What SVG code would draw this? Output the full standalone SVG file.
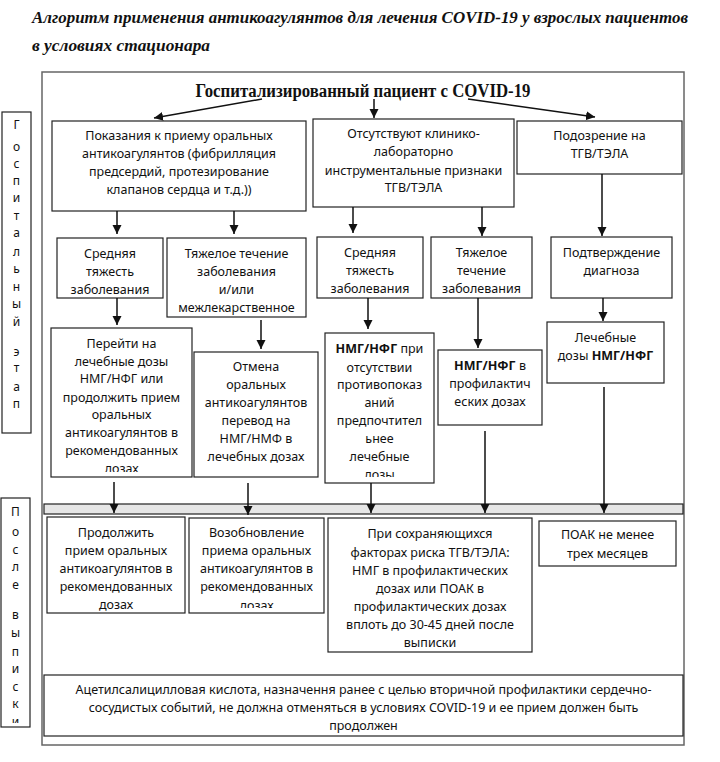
<svg xmlns="http://www.w3.org/2000/svg" width="720" height="762" viewBox="0 0 720 762">
<style>
.t{font-family:"Noto Sans","Open Sans","DejaVu Sans",sans-serif;font-size:12.5px;fill:#111;text-anchor:middle}
.b{font-weight:bold}
.box{fill:#fff;stroke:#222;stroke-width:1.2}
.lbl{font-family:"Noto Sans","Open Sans",sans-serif;font-size:12px;fill:#111;text-anchor:middle}
.ttl{font-family:"Liberation Serif","Times New Roman",serif;font-weight:bold;font-style:italic;font-size:17.5px;fill:#111}
.head{font-family:"Liberation Serif","Times New Roman",serif;font-weight:bold;font-size:18px;fill:#111;text-anchor:middle}
.con{stroke:#111;stroke-width:1.5;fill:none;marker-end:url(#ah)}
</style>
<defs>
<marker id="ah" markerUnits="userSpaceOnUse" markerWidth="10" markerHeight="10" refX="9" refY="4.5" orient="auto">
<path d="M0,0 L9,4.5 L0,9 z" fill="#111"/>
</marker>
<clipPath id="c1"><rect x="51" y="328" width="141" height="144"/></clipPath>
<clipPath id="c2"><rect x="189" y="518" width="135" height="90"/></clipPath>
<clipPath id="c3"><rect x="325" y="333" width="109" height="144"/></clipPath>
<clipPath id="c4"><rect x="1" y="498" width="29" height="225"/></clipPath>
</defs>
<rect width="720" height="762" fill="#fff"/>

<g id="title">
<text class="ttl" x="32" y="23" textLength="656" lengthAdjust="spacingAndGlyphs">Алгоритм применения антикоагулянтов для лечения COVID-19 у взрослых пациентов</text>
<text class="ttl" x="32" y="51" textLength="178" lengthAdjust="spacingAndGlyphs">в условиях стационара</text>
</g>

<g id="frame">
<rect x="42" y="72" width="642" height="673" fill="none" stroke="#666" stroke-width="1.5"/>
</g>

<g id="label-hospital">
<rect x="2" y="112" width="29" height="321" fill="#fff" stroke="#222" stroke-width="1.2"/>
<text class="lbl" x="16.5" y="129">Г</text>
<text class="lbl" x="16.5" y="151">о</text>
<text class="lbl" x="16.5" y="168">с</text>
<text class="lbl" x="16.5" y="185">п</text>
<text class="lbl" x="16.5" y="202">и</text>
<text class="lbl" x="16.5" y="220">т</text>
<text class="lbl" x="16.5" y="237">а</text>
<text class="lbl" x="16.5" y="256">л</text>
<text class="lbl" x="16.5" y="273">ь</text>
<text class="lbl" x="16.5" y="291">н</text>
<text class="lbl" x="16.5" y="308">ы</text>
<text class="lbl" x="16.5" y="326">й</text>
<text class="lbl" x="16.5" y="356">э</text>
<text class="lbl" x="16.5" y="372">т</text>
<text class="lbl" x="16.5" y="391">а</text>
<text class="lbl" x="16.5" y="408">п</text>
</g>

<g id="label-discharge">
<rect x="1" y="498" width="29" height="229" fill="#fff" stroke="#222" stroke-width="1.2"/>
<g clip-path="url(#c4)">
<text class="lbl" x="15.5" y="516">П</text>
<text class="lbl" x="15.5" y="536">о</text>
<text class="lbl" x="15.5" y="554">с</text>
<text class="lbl" x="15.5" y="571">л</text>
<text class="lbl" x="15.5" y="589">е</text>
<text class="lbl" x="15.5" y="619">в</text>
<text class="lbl" x="15.5" y="637">ы</text>
<text class="lbl" x="15.5" y="656">п</text>
<text class="lbl" x="15.5" y="673">и</text>
<text class="lbl" x="15.5" y="691">с</text>
<text class="lbl" x="15.5" y="708">к</text>
<text class="lbl" x="15.5" y="726">и</text>
</g>
</g>

<g id="head">
<text class="head" x="363" y="97" textLength="335" lengthAdjust="spacingAndGlyphs">Госпитализированный пациент с COVID-19</text>
</g>

<g id="n-oral">
<rect class="box" x="52" y="121" width="254" height="90"/>
<text class="t" x="179" y="139.5">Показания к приему оральных</text>
<text class="t" x="179" y="157.5">антикоагулянтов (фибрилляция</text>
<text class="t" x="179" y="176">предсердий, протезирование</text>
<text class="t" x="179" y="194">клапанов сердца и т.д.))</text>
</g>

<g id="n-nosigns">
<rect class="box" x="313" y="119" width="201" height="88"/>
<text class="t" x="413.5" y="137.5">Отсутствуют клинико-</text>
<text class="t" x="413.5" y="156">лабораторно</text>
<text class="t" x="413.5" y="174.5">инструментальные признаки</text>
<text class="t" x="413.5" y="191.5">ТГВ/ТЭЛА</text>
</g>

<g id="n-suspect">
<rect class="box" x="517" y="121" width="165" height="53"/>
<text class="t" x="599.5" y="139.5">Подозрение на</text>
<text class="t" x="599.5" y="157.5">ТГВ/ТЭЛА</text>
</g>

<g id="n-mod1">
<rect class="box" x="57" y="238" width="106" height="60"/>
<text class="t" x="110" y="257.5">Средняя</text>
<text class="t" x="110" y="275.5">тяжесть</text>
<text class="t" x="110" y="293.5">заболевания</text>
</g>

<g id="n-sev1">
<rect class="box" x="167" y="238" width="139" height="79"/>
<text class="t" x="236.5" y="257.5">Тяжелое течение</text>
<text class="t" x="236.5" y="275.5">заболевания</text>
<text class="t" x="236.5" y="293.5">и/или</text>
<text class="t" x="236.5" y="311.5">межлекарственное</text>
</g>

<g id="n-mod2">
<rect class="box" x="317" y="237" width="106" height="61"/>
<text class="t" x="370" y="256.5">Средняя</text>
<text class="t" x="370" y="274.5">тяжесть</text>
<text class="t" x="370" y="292.5">заболевания</text>
</g>

<g id="n-sev2">
<rect class="box" x="431" y="237" width="101" height="61"/>
<text class="t" x="481.5" y="256.5">Тяжелое</text>
<text class="t" x="481.5" y="274.5">течение</text>
<text class="t" x="481.5" y="292.5">заболевания</text>
</g>

<g id="n-confirm">
<rect class="box" x="551" y="237" width="121" height="61"/>
<text class="t" x="611.5" y="256.5">Подтверждение</text>
<text class="t" x="611.5" y="274.5">диагноза</text>
</g>

<g id="n-switch">
<rect class="box" x="51" y="328" width="141" height="149"/>
<g clip-path="url(#c1)">
<text class="t" x="121.5" y="347.5">Перейти на</text>
<text class="t" x="121.5" y="365.5">лечебные дозы</text>
<text class="t" x="121.5" y="382.5">НМГ/НФГ или</text>
<text class="t" x="121.5" y="401.5">продолжить прием</text>
<text class="t" x="121.5" y="418.5">оральных</text>
<text class="t" x="121.5" y="436.5">антикоагулянтов в</text>
<text class="t" x="121.5" y="454.5">рекомендованных</text>
<text class="t" x="121.5" y="472.5">дозах</text>
</g>
</g>

<g id="n-cancel">
<rect class="box" x="194" y="352" width="124" height="125"/>
<text class="t" x="256" y="370.5">Отмена</text>
<text class="t" x="256" y="388.5">оральных</text>
<text class="t" x="256" y="406.5">антикоагулянтов</text>
<text class="t" x="256" y="424.5">перевод на</text>
<text class="t" x="256" y="442.5">НМГ/НМФ в</text>
<text class="t" x="256" y="460.5">лечебных дозах</text>
</g>

<g id="n-lmwh-pref">
<rect class="box" x="325" y="333" width="109" height="150"/>
<g clip-path="url(#c3)">
<text class="t" x="379.5" y="352.5"><tspan class="b">НМГ/НФГ</tspan> при</text>
<text class="t" x="379.5" y="371.5">отсутствии</text>
<text class="t" x="379.5" y="388.5">противопоказ</text>
<text class="t" x="379.5" y="406.5">аний</text>
<text class="t" x="379.5" y="424.5">предпочтител</text>
<text class="t" x="379.5" y="442.5">ьнее</text>
<text class="t" x="379.5" y="460.5">лечебные</text>
<text class="t" x="379.5" y="478.5">дозы</text>
</g>
</g>

<g id="n-lmwh-proph">
<rect class="box" x="438" y="350" width="104" height="75"/>
<text class="t" x="490" y="369.5"><tspan class="b">НМГ/НФГ</tspan> в</text>
<text class="t" x="490" y="387.5">профилактич</text>
<text class="t" x="490" y="405.5">еских дозах</text>
</g>

<g id="n-lmwh-ther">
<rect class="box" x="547" y="322" width="117" height="61"/>
<text class="t" x="605.5" y="341.5">Лечебные</text>
<text class="t" x="605.5" y="359.5">дозы <tspan class="b">НМГ/НФГ</tspan></text>
</g>

<g id="band">
<rect x="44" y="504" width="639" height="10" fill="#e6e6e6" stroke="#222" stroke-width="1.2"/>
</g>

<g id="n-continue">
<rect class="box" x="47" y="517" width="138" height="96"/>
<text class="t" x="116" y="536.5">Продолжить</text>
<text class="t" x="116" y="555">прием оральных</text>
<text class="t" x="116" y="572.5">антикоагулянтов в</text>
<text class="t" x="116" y="591">рекомендованных</text>
<text class="t" x="116" y="608.5">дозах</text>
</g>

<g id="n-resume">
<rect class="box" x="189" y="518" width="135" height="95"/>
<g clip-path="url(#c2)">
<text class="t" x="256.5" y="536.5">Возобновление</text>
<text class="t" x="256.5" y="554.5">приема оральных</text>
<text class="t" x="256.5" y="572.5">антикоагулянтов в</text>
<text class="t" x="256.5" y="591">рекомендованных</text>
<text class="t" x="256.5" y="609.5">дозах</text>
</g>
</g>

<g id="n-risk">
<rect class="box" x="328" y="518" width="204" height="134"/>
<text class="t" x="430" y="537.5">При сохраняющихся</text>
<text class="t" x="430" y="556.5">факторах риска ТГВ/ТЭЛА:</text>
<text class="t" x="430" y="574.5">НМГ в профилактических</text>
<text class="t" x="430" y="592.5">дозах или ПОАК в</text>
<text class="t" x="430" y="610.5">профилактических дозах</text>
<text class="t" x="430" y="628.5">вплоть до 30-45 дней после</text>
<text class="t" x="430" y="646.5">выписки</text>
</g>

<g id="n-doac">
<rect class="box" x="539" y="521" width="137" height="45"/>
<text class="t" x="607.5" y="538.5">ПОАК не менее</text>
<text class="t" x="607.5" y="557.5">трех месяцев</text>
</g>

<g id="n-asa">
<rect class="box" x="44" y="675" width="639" height="61"/>
<text class="t" x="363.5" y="693.5">Ацетилсалицилловая кислота, назначення ранее с целью вторичной профилактики сердечно-</text>
<text class="t" x="363.5" y="711.5">сосудистых событий, не должна отменяться в условиях COVID-19 и ее прием должен быть</text>
<text class="t" x="363.5" y="730">продолжен</text>
</g>

<g id="connectors">
<line class="con" x1="262" y1="99" x2="154" y2="118"/>
<line class="con" x1="374" y1="99" x2="374" y2="118"/>
<line class="con" x1="468" y1="99" x2="595" y2="117"/>
<line class="con" x1="117" y1="211" x2="117" y2="234"/>
<line class="con" x1="234" y1="211" x2="234" y2="234"/>
<line class="con" x1="353" y1="207" x2="353" y2="233"/>
<line class="con" x1="482" y1="207" x2="482" y2="236"/>
<line class="con" x1="602" y1="174" x2="602" y2="236"/>
<line class="con" x1="117" y1="298" x2="117" y2="325"/>
<line class="con" x1="261" y1="320" x2="261" y2="349"/>
<line class="con" x1="368" y1="298" x2="368" y2="329"/>
<line class="con" x1="478" y1="298" x2="478" y2="348"/>
<line class="con" x1="603" y1="298" x2="603" y2="321"/>
<line class="con" x1="114" y1="482" x2="114" y2="513"/>
<line class="con" x1="248" y1="483" x2="248" y2="515"/>
<line class="con" x1="371" y1="483" x2="371" y2="513"/>
<line class="con" x1="485" y1="431" x2="485" y2="513"/>
<line class="con" x1="604" y1="387" x2="604" y2="513"/>
</g>
</svg>
